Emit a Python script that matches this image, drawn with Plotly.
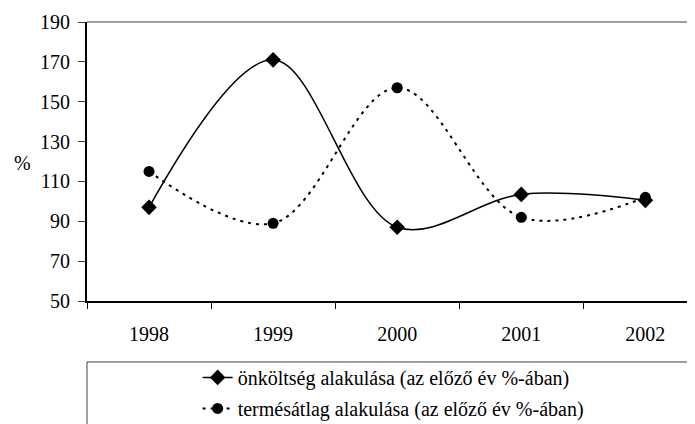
import plotly.graph_objects as go

years = ["1998", "1999", "2000", "2001", "2002"]
onkoltseg = [97, 171, 87, 103.5, 100.5]
termesatlag = [115, 89, 157, 92, 102]
y_ticks = [50, 70, 90, 110, 130, 150, 170, 190]

FONT = "'Liberation Serif', 'Times New Roman', Times, serif"

fig = go.Figure()
fig.add_trace(go.Scatter(
    x=years, y=onkoltseg, mode="lines+markers",
    name="önköltség alakulása (az előző év %-ában)",
    line=dict(color="black", width=1.5, shape="spline", smoothing=1),
    marker=dict(symbol="diamond", size=12, color="black"),
    legendgroup="a",
))
fig.add_trace(go.Scatter(
    x=years, y=termesatlag, mode="lines+markers",
    name="termésátlag alakulása (az előző év %-ában)",
    line=dict(color="black", width=2, dash="3px,5px", shape="spline", smoothing=1),
    marker=dict(symbol="circle", size=11, color="black"),
    legendgroup="b",
))

fig.update_layout(
    width=687, height=416,
    margin=dict(l=79, r=0, t=14, b=123, autoexpand=False),
    plot_bgcolor="white", paper_bgcolor="white",
    font=dict(family=FONT, size=20, color="black"),
    showlegend=True,
    legend=dict(
        x=0.182, xanchor="left", y=-0.204, yanchor="top",
        bgcolor="rgba(0,0,0,0)", borderwidth=0,
        traceorder="grouped", tracegroupgap=2,
        font=dict(family=FONT, size=20, color="black"),
    ),
    xaxis=dict(
        type="category", categoryorder="array", categoryarray=years,
        range=[-0.5, 4.4], tickson="boundaries", ticks="outside", ticklen=6,
        tickcolor="black", showline=True, linecolor="black", linewidth=1.5,
        showgrid=False, zeroline=False, ticklabelstandoff=14, automargin=False,
        tickfont=dict(family=FONT, size=20, color="black"),
    ),
    yaxis=dict(
        range=[50, 190], tickvals=y_ticks, ticks="outside", ticklen=7,
        tickcolor="#404040", showline=True, linecolor="black", linewidth=2,
        showgrid=False, zeroline=False, ticklabelstandoff=4, automargin=False,
        tickfont=dict(family=FONT, size=20, color="black"),
    ),
    shapes=[
        dict(type="line", xref="paper", yref="paper", x0=0, x1=1, y0=1, y1=1,
             line=dict(color="#808080", width=1.5)),
        dict(type="rect", xref="paper", yref="paper", x0=0, x1=1.05, y0=-0.6, y1=-0.2186,
             line=dict(color="#404040", width=1)),
    ],
    annotations=[
        dict(text="%", xref="paper", yref="paper", x=-0.123, y=0.495,
             showarrow=False, font=dict(family=FONT, size=20, color="black")),
    ],
)

fig.write_html("out.html")
